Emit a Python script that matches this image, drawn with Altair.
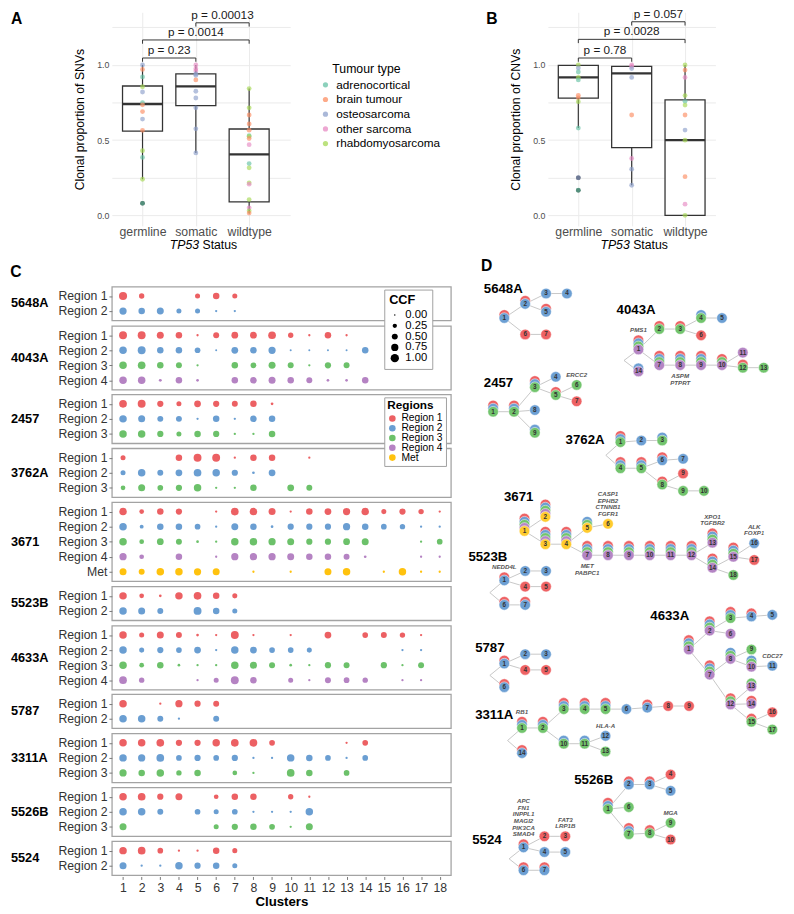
import altair as alt
import pandas as pd

FONT = "Liberation Sans"
N = None

# ---------------- Panels A and B : data ----------------
STATUS = ["germline", "somatic", "wildtype"]
TUMOUR_TYPES = ["adrenocortical", "brain tumour", "osteosarcoma", "other sarcoma", "rhabdomyosarcoma"]
TUMOUR_COLOURS = ["#66C2A5", "#FC8D62", "#8DA0CB", "#E78AC3", "#A6D854"]

SNV_STATUS = [1] * 14 + [2] * 11 + [3] * 17
SNV_VALUE = [1.0, 0.97, 0.92, 0.855, 0.82, 0.75, 0.735, 0.69, 0.64, 0.565, 0.43, 0.385, 0.24, 0.08,
             1.0, 0.975, 0.96, 0.94, 0.93, 0.90, 0.825, 0.78, 0.715, 0.575, 0.415,
             0.843, 0.715, 0.667, 0.608, 0.566, 0.53, 0.525, 0.511, 0.47, 0.344, 0.316, 0.216,
             0.207, 0.105, 0.05, 0.03, 0.015]
SNV_TYPE = [2, 1, 0, 4, 2, 0, 1, 1, 2, 1, 4, 0, 4, 0,
            3, 3, 3, 2, 2, 1, 2, 2, 2, 2, 2,
            4, 4, 1, 1, 1, 0, 4, 1, 3, 0, 4, 4, 3, 4, 3, 4, 1]
SNV_LOW = [0.24, 0.415, 0.013]
SNV_Q1 = [0.56, 0.73, 0.09]
SNV_MED = [0.74, 0.857, 0.405]
SNV_Q3 = [0.86, 0.94, 0.574]
SNV_HIGH = [1.0, 1.0, 0.843]
SNV_OUT_STATUS = [1]
SNV_OUT_VALUE = [0.08]
SNV_P_FROM = [1, 1, 2]
SNV_P_TO = [2, 3, 3]
SNV_P_LEVEL = [1.046, 1.166, 1.28]
SNV_P_TEXT = ["p = 0.23", "p = 0.0014", "p = 0.00013"]

CNV_STATUS = [1] * 11 + [2] * 8 + [3] * 12
CNV_VALUE = [1.0, 0.98, 0.953, 0.917, 0.9, 0.798, 0.781, 0.756, 0.58, 0.25, 0.167,
             1.0, 0.99, 0.976, 0.917, 0.667, 0.378, 0.307, 0.2,
             1.0, 0.966, 0.917, 0.796, 0.758, 0.733, 0.667, 0.567, 0.5, 0.257, 0.074, 0.0]
CNV_TYPE = [4, 2, 0, 4, 0, 1, 1, 4, 0, 2, 0,
            3, 3, 2, 2, 1, 3, 2, 2,
            4, 1, 3, 4, 0, 4, 1, 2, 4, 1, 3, 4]
CNV_LOW = [0.58, 0.2, 0.0]
CNV_Q1 = [0.779, 0.45, 0.0]
CNV_MED = [0.917, 0.944, 0.5]
CNV_Q3 = [0.997, 0.99, 0.768]
CNV_HIGH = [1.0, 1.0, 1.0]
CNV_OUT_STATUS = [1, 1]
CNV_OUT_VALUE = [0.25, 0.167]
CNV_P_FROM = [1, 1, 2]
CNV_P_TO = [2, 3, 3]
CNV_P_LEVEL = [1.046, 1.17, 1.287]
CNV_P_TEXT = ["p = 0.78", "p = 0.0028", "p = 0.057"]

# ---------------- Panel C : data (CCF per region and cluster) ----------------
REGIONS = ["Region 1", "Region 2", "Region 3", "Region 4", "Met"]
REGION_COLOURS = ["#EC6063", "#6A9ED2", "#6CC16A", "#B583C3", "#FFC20E"]
C_PATIENTS = ["5648A", "4043A", "2457", "3762A", "3671", "5523B", "4633A", "5787", "3311A", "5526B", "5524"]

CCF_5648A = [[0.95, 0.4, N, N, 0.35, 0.6, 0.35],
             [0.75, 0.6, 0.7, 0.35, 0.35, 0.05, 0.05]]
CCF_4043A = [[0.9, 0.9, 0.7, 0.6, 0.05, 0.5, 0.65, 0.65, 0.85, 0.4, 0.05, 0.6, 0.05],
             [0.8, 0.9, 0.6, 0.6, 0.45, 0.03, 0.65, 0.6, 0.75, 0.03, 0.03, 0.03, 0.03, 0.6],
             [0.8, 0.85, 0.6, 0.5, 0.05, N, 0.6, 0.45, 0.7, 0.5, 0.05, 0.55, 0.5],
             [0.8, 0.8, 0.1, 0.6, 0.08, N, 0.6, 0.6, 0.7, 0.6, 0.5, 0.08, 0.08, 0.6]]
CCF_2457 = [[0.85, 0.9, 0.55, 0.35, 0.65, 0.55, 0.5, 0.6, 0.08],
            [0.8, 0.7, 0.5, 0.5, 0.05, 0.6, 0.05, 0.6, 0.6],
            [0.8, 0.8, 0.55, 0.35, 0.6, 0.55, 0.05, 0.05, 0.6]]
CCF_3762A = [[0.35, N, N, 0.6, 0.9, 0.9, 0.05, 0.6, 0.6, N, 0.05],
             [0.35, 0.8, 0.5, 0.65, 0.85, 0.8, 0.55, 0.08, 0.65],
             [0.3, 0.7, 0.45, 0.55, 0.8, 0.05, 0.05, 0.6, N, 0.65, 0.5]]
CCF_3671 = [[0.8, 0.3, 0.6, 0.55, N, 0.05, 0.85, 0.8, 0.7, 0.05, 0.6, 0.65, 0.75, 0.8, 0.35, 0.55, 0.4, 0.05],
            [0.8, 0.2, 0.6, 0.6, 0.45, 0.05, 0.7, 0.6, 0.08, 0.55, 0.55, 0.55, 0.75, 0.6, 0.45, 0.4, 0.05, 0.05],
            [0.8, 0.3, 0.65, 0.5, 0.08, 0.05, 0.8, 0.8, 0.75, 0.7, 0.55, 0.55, 0.65, 0.7, N, N, 0.05, 0.45],
            [0.75, 0.3, N, 0.6, N, 0.05, 0.75, 0.75, 0.75, 0.7, 0.6, 0.6, 0.5, 0.08, N, N, 0.05, 0.05],
            [0.7, 0.5, 0.8, 0.8, 0.75, 0.7, N, 0.05, N, 0.05, N, 0.7, 0.8, N, 0.05, 0.8, 0.05, 0.05]]
CCF_5523B = [[0.8, 0.3, 0.08, 0.8, 0.85, 0.6, 0.35],
             [0.8, 0.7, 0.5, N, 0.9, 0.6, 0.35]]
CCF_4633A = [[0.8, 0.35, 0.7, 0.5, 0.08, 0.05, 0.9, 0.05, N, 0.05, N, 0.65, N, 0.45, 0.5, 0.4, 0.05],
             [0.8, 0.35, 0.55, 0.45, 0.65, 0.05, 0.8, 0.65, 0.45, 0.45, 0.35, N, N, N, N, 0.05, 0.05],
             [0.8, 0.3, 0.6, 0.08, 0.05, 0.05, 0.8, 0.7, 0.5, 0.08, 0.05, 0.55, 0.5, N, 0.55, 0.05, 0.5],
             [0.85, 0.4, N, N, 0.05, 0.35, 0.9, 0.6, N, 0.35, 0.05, 0.5, 0.45, 0.4, N, 0.05, 0.05]]
CCF_5787 = [[0.8, N, 0.05, 0.75, 0.55, 0.5],
            [0.8, 0.8, 0.5, 0.05, N, 0.5]]
CCF_3311A = [[0.8, 0.8, 0.85, 0.55, 0.55, 0.8, 0.85, 0.85, 0.45, N, N, N, 0.05, 0.45],
             [0.8, 0.75, 0.85, 0.45, 0.55, 0.45, 0.55, 0.05, 0.05, 0.8, 0.6, 0.45, 0.05, 0.45],
             [0.75, 0.6, 0.8, 0.4, 0.6, N, 0.3, 0.05, N, 0.85, 0.6, N, 0.45]]
CCF_5526B = [[0.8, 0.85, 0.55, 0.7, N, 0.3, 0.6, 0.6, N, 0.4, 0.05],
             [0.8, 0.8, 0.5, N, 0.45, 0.35, 0.45, 0.05, 0.05, 0.05, 0.8],
             [0.7, N, N, N, N, 0.35, 0.55, 0.6, 0.45, 0.05, 0.7]]
CCF_5524 = [[0.8, 0.85, 0.45, 0.05, 0.05, 0.6, 0.35],
            [0.7, 0.05, 0.05, 0.8, 0.55, 0.6, 0.35]]

C_TABLES = [CCF_5648A, CCF_4043A, CCF_2457, CCF_3762A, CCF_3671, CCF_5523B,
            CCF_4633A, CCF_5787, CCF_3311A, CCF_5526B, CCF_5524]
C_REGION_SETS = [REGIONS[:2], REGIONS[:4], REGIONS[:3], REGIONS[:3], REGIONS[:5], REGIONS[:2],
                 REGIONS[:4], REGIONS[:2], REGIONS[:3], REGIONS[:3], REGIONS[:2]]

# ---------------- Panel D : phylogenetic trees (layout in tree units) ----------------
D_COLOURS = {"R": "#EE6264", "B": "#6C9FD3", "G": "#72C46D", "P": "#B485C4", "Y": "#FFCB2E"}
D_STEP = 21.7
D_LAYER = 3.3

TREE_5648A = {"name": "5648A", "at": (482, 288), "x0": 503.3,
              "nodes": [("1", 0, 318.3, "RB"), ("2", 1, 303.3, "RB"), ("3", 2, 292.3, "B"), ("4", 3, 292.3, "B"),
                        ("5", 2, 311.7, "RB"), ("6", 1, 335.7, "R"), ("7", 2, 335.7, "R")],
              "edges": [("1", "2"), ("2", "3"), ("3", "4"), ("2", "5"), ("1", "6"), ("6", "7")],
              "genes": []}
TREE_4043A = {"name": "4043A", "at": (620, 310), "x0": 642.7,
              "nodes": [("1", 0, 351.7, "RBGP"), ("2", 1, 330, "RG"), ("3", 2, 330, "RG"), ("4", 3, 318.3, "BG"),
                        ("5", 4, 318.3, "B"), ("6", 3, 336.7, "R"), ("7", 1, 368.3, "RBGP"), ("8", 2, 368.3, "RBGP"),
                        ("9", 3, 368.3, "RBGP"), ("10", 4, 368.3, "RGP"), ("11", 5, 355, "P"), ("12", 5, 371, "RG"),
                        ("13", 6, 371, "G"), ("14", 0, 375, "BP")],
              "edges": [("1", "2"), ("2", "3"), ("3", "4"), ("4", "5"), ("3", "6"), ("1", "7"), ("7", "8"),
                        ("8", "9"), ("9", "10"), ("10", "11"), ("10", "12"), ("12", "13"), ("1", "14", "bend")],
              "genes": [("1", ["PMS1"], "above"), ("8", ["ASPM", "PTPRT"], "below")]}
TREE_2457 = {"name": "2457", "at": (482, 387), "x0": 491.7,
             "nodes": [("1", 0, 417.7, "RBG"), ("2", 1, 417.7, "RBG"), ("3", 2, 391.7, "RBG"), ("4", 3, 380.7, "B"),
                       ("5", 3, 400, "RG"), ("6", 4, 389.3, "G"), ("7", 4, 406.7, "R"), ("8", 2, 416, "B"),
                       ("9", 2, 440, "BG")],
             "edges": [("1", "2"), ("2", "3"), ("3", "4"), ("3", "5"), ("5", "6"), ("5", "7"), ("2", "8"), ("2", "9")],
             "genes": [("6", ["ERCC2"], "above")]}
TREE_3762A = {"name": "3762A", "at": (567, 448), "x0": 624,
              "nodes": [("r", -0.7, 464, ""), ("1", 0, 450, "RBG"), ("2", 1, 448.3, "B"), ("3", 2, 448.3, "BG"),
                        ("4", 0, 477.7, "RBG"), ("5", 1, 477.7, "RBG"), ("6", 2, 469.3, "RB"), ("7", 3, 467.7, "B"),
                        ("8", 2, 495, "RG"), ("9a", 3, 483.3, "R"), ("9b", 3, 501.7, "G"), ("10", 4, 501.7, "G")],
              "edges": [("r", "1"), ("r", "4"), ("1", "2"), ("2", "3"), ("4", "5"), ("5", "6"), ("6", "7"),
                        ("5", "8"), ("8", "9a"), ("8", "9b"), ("9b", "10")],
              "genes": []}
TREE_3671 = {"name": "3671", "at": (503, 508), "x0": 524.3,
             "nodes": [("1", 0, 544.3, "RBGPY"), ("2", 1, 529.3, "RBGPY"), ("3", 1, 558.3, "RBGPY"),
                       ("4", 2, 558.3, "RBGPY"), ("5", 3, 541, "BGY"), ("6", 4, 536.7, "Y"), ("7", 3, 570, "RBGP"),
                       ("8", 4, 570, "RBGP"), ("9", 5, 570, "RBGP"), ("10", 6, 570, "RBGP"), ("11", 7, 570, "RBGP"),
                       ("12", 8, 570, "RBGP"), ("13", 9, 556.7, "RBGP"), ("14", 9, 583.3, "RBGP"),
                       ("15", 10, 571.7, "RBGP"), ("16", 11, 557.3, "B"), ("17", 11, 575, "R"), ("18", 10, 591, "G")],
             "edges": [("1", "2"), ("1", "3"), ("3", "4"), ("4", "5"), ("5", "6"), ("4", "7"), ("7", "8"),
                       ("8", "9"), ("9", "10"), ("10", "11"), ("11", "12"), ("12", "13"), ("12", "14"),
                       ("14", "15"), ("15", "16"), ("15", "17"), ("14", "18")],
             "genes": [("6", ["CASP1", "EPHB2", "CTNNB1", "FGFR1"], "above"), ("7", ["MET", "PABPC1"], "below"),
                       ("13", ["XPO1", "TGFBR2"], "above"), ("16", ["ALK", "FOXP1"], "above")]}
TREE_5523B = {"name": "5523B", "at": (466, 572), "x0": 503.3,
              "nodes": [("1", 0, 596.7, "RB"), ("2", 1, 586.7, "B"), ("3", 2, 586.7, "B"), ("4", 1, 603.3, "R"),
                        ("5", 2, 603.3, "R"), ("6", 0, 622.7, "RB"), ("7", 1, 622.7, "RB")],
              "edges": [("1", "2"), ("2", "3"), ("1", "4"), ("4", "5"), ("1", "6", "bend"), ("6", "7")],
              "genes": [("1", ["NEDD4L"], "above")]}
TREE_4633A = {"name": "4633A", "at": (655, 635), "x0": 695,
              "nodes": [("1", 0, 670, "RBGP"), ("2", 1, 650, "RBGP"), ("3", 2, 636.7, "RBG"), ("4", 3, 635, "RB"),
                        ("5", 4, 633.3, "B"), ("6", 2, 653.3, "P"), ("7", 1, 696.7, "RBGP"), ("8", 2, 680, "BGP"),
                        ("9", 3, 670, "G"), ("10", 3, 688.3, "BGP"), ("11", 4, 687.3, "B"), ("12", 2, 728.3, "RGP"),
                        ("13", 3, 709.3, "GP"), ("14", 3, 727.7, "RP"), ("15", 3, 746.7, "RG"), ("16", 4, 736.7, "R"),
                        ("17", 4, 755, "G")],
              "edges": [("1", "2"), ("2", "3"), ("3", "4"), ("4", "5"), ("2", "6"), ("1", "7"), ("7", "8"),
                        ("8", "9"), ("8", "10"), ("10", "11"), ("7", "12"), ("12", "13"), ("12", "14"),
                        ("12", "15"), ("15", "16"), ("15", "17")],
              "genes": [("11", ["CDC27"], "above")]}
TREE_5787 = {"name": "5787", "at": (473, 669), "x0": 503.3,
             "nodes": [("1", 0, 685, "RB"), ("2", 1, 675, "B"), ("3", 2, 675, "B"), ("4", 1, 691.7, "R"),
                       ("5", 2, 691.7, "R"), ("6", 0, 710, "RB")],
             "edges": [("1", "2"), ("2", "3"), ("1", "4"), ("4", "5"), ("1", "6", "bend")],
             "genes": []}
TREE_3311A = {"name": "3311A", "at": (473, 740), "x0": 521.7,
              "nodes": [("1", 0, 753.3, "RBG"), ("2", 1, 753.3, "RBG"), ("3", 2, 733.3, "RBG"), ("4", 3, 733.3, "RBG"),
                        ("5", 4, 733.3, "RBG"), ("6", 5, 733.3, "B"), ("7", 6, 731.7, "RB"), ("8", 7, 730, "R"),
                        ("9", 8, 730, "R"), ("10", 2, 770, "BG"), ("11", 3, 770, "BG"), ("12", 4, 761.7, "B"),
                        ("13", 4, 778.3, "G"), ("14", 0, 780, "RB")],
              "edges": [("1", "2"), ("2", "3"), ("3", "4"), ("4", "5"), ("5", "6"), ("6", "7"), ("7", "8"),
                        ("8", "9"), ("2", "10"), ("10", "11"), ("11", "12"), ("11", "13"), ("1", "14", "bend")],
              "genes": [("1", ["RB1"], "above"), ("12", ["HLA-A"], "above")]}
TREE_5526B = {"name": "5526B", "at": (576, 809), "x0": 611,
              "nodes": [("1", 0, 839.3, "RBG"), ("2", 1, 813.3, "RB"), ("3", 2, 813.3, "RB"), ("4", 3, 802.7, "R"),
                        ("5", 3, 820, "B"), ("6", 1, 837.3, "G"), ("7", 1, 866, "RBG"), ("8", 2, 865, "RG"),
                        ("9", 3, 854, "G"), ("10", 3, 871.7, "R")],
              "edges": [("1", "2"), ("2", "3"), ("3", "4"), ("3", "5"), ("1", "6"), ("1", "7"), ("7", "8"),
                        ("8", "9"), ("8", "10")],
              "genes": [("9", ["MGA"], "above")]}
TREE_5524 = {"name": "5524", "at": (470, 872), "x0": 523.3,
             "nodes": [("1", 0, 880, "RB"), ("2", 1, 868.3, "R"), ("3", 2, 868.3, "R"), ("4", 1, 885, "B"),
                       ("5", 2, 885, "B"), ("6", 0, 904.3, "RB"), ("7", 1, 904.3, "RB")],
             "edges": [("1", "2"), ("2", "3"), ("1", "4"), ("4", "5"), ("1", "6", "bend"), ("6", "7")],
             "genes": [("1", ["APC", "FN1", "INPPL1", "MAGI2", "PIK3CA", "SMAD4"], "above"),
                       ("3", ["FAT3", "LRP1B"], "above")]}
TREES = [TREE_5648A, TREE_4043A, TREE_2457, TREE_3762A, TREE_3671, TREE_5523B,
         TREE_4633A, TREE_5787, TREE_3311A, TREE_5526B, TREE_5524]


# ====================================================================
def box_panel(status, value, ttype, low, q1, med, q3, high, out_s, out_v,
              p_from, p_to, p_level, p_text, ytitle, letter, letter_x, xdom, width, show_legend):
    H = 218
    xs = alt.Scale(domain=xdom, nice=False, zero=False)
    ys = alt.Scale(domain=[-0.07, 1.35], nice=False, zero=False)
    cs = alt.Scale(domain=TUMOUR_TYPES, range=TUMOUR_COLOURS)
    xaxis = alt.Axis(values=[1, 2, 3], labelExpr="['germline','somatic','wildtype'][datum.value-1]",
                     grid=True, gridColor="#EBEBEB", ticks=False, domain=False,
                     labelFontSize=12.5, labelColor="#4D4D4D", labelPadding=0, title=None)
    yaxis = alt.Axis(values=[0, 0.25, 0.5, 0.75, 1.0, 1.25],
                     labelExpr="datum.value == 0 || datum.value == 0.5 || datum.value == 1 ? format(datum.value, '.1f') : ''",
                     grid=True, gridColor="#EBEBEB", ticks=False, domain=False,
                     labelFontSize=9, labelColor="#4D4D4D", labelPadding=3,
                     title=ytitle, titleFontSize=12.5, titleFontWeight="normal", titleColor="black",
                     titlePadding=10)
    pts = pd.DataFrame({"s": status, "v": value, "type": [TUMOUR_TYPES[t] for t in ttype]})
    box = pd.DataFrame({"s": [1, 2, 3], "low": low, "q1": q1, "med": med, "q3": q3, "high": high})
    box["l"] = box["s"] - 0.375
    box["r"] = box["s"] + 0.375
    outl = pd.DataFrame({"s": out_s, "v": out_v})
    br = pd.DataFrame({"a": p_from, "b": p_to, "lv": p_level, "txt": p_text})
    br["tip"] = br["lv"] - 0.025
    br["mid"] = (br["a"] + br["b"]) / 2

    def X(f):
        return alt.X(f, scale=xs, axis=xaxis)

    def Y(f):
        return alt.Y(f, scale=ys, axis=yaxis)

    whisk = alt.Chart(box).mark_rule(color="#333333", strokeWidth=1.2).encode(
        x=X("s:Q"), y=Y("low:Q"), y2="high:Q")
    rect = alt.Chart(box).mark_rect(fill="white", stroke="#333333", strokeWidth=1.3).encode(
        x=X("l:Q"), x2="r:Q", y=Y("q1:Q"), y2="q3:Q")
    medl = alt.Chart(box).mark_rule(color="#333333", strokeWidth=2.4).encode(
        x=X("l:Q"), x2="r:Q", y=Y("med:Q"))
    outs = alt.Chart(outl).mark_circle(color="#333333", size=22, opacity=1).encode(x=X("s:Q"), y=Y("v:Q"))
    points = alt.Chart(pts).mark_circle(size=24, opacity=0.65).encode(
        x=X("s:Q"), y=Y("v:Q"), color=alt.Color("type:N", scale=cs, legend=None))
    hbar = alt.Chart(br).mark_rule(color="#333333", strokeWidth=1).encode(x=X("a:Q"), x2="b:Q", y=Y("lv:Q"))
    t1 = alt.Chart(br).mark_rule(color="#333333", strokeWidth=1).encode(x=X("a:Q"), y=Y("lv:Q"), y2="tip:Q")
    t2 = alt.Chart(br).mark_rule(color="#333333", strokeWidth=1).encode(x=X("b:Q"), y=Y("lv:Q"), y2="tip:Q")
    ptxt = alt.Chart(br).mark_text(baseline="bottom", dy=-1, fontSize=12, color="#1A1A1A").encode(
        x=X("mid:Q"), y=Y("lv:Q"), text="txt:N")
    let = alt.Chart(pd.DataFrame({"t": [letter]})).mark_text(
        align="left", baseline="top", fontSize=16, fontWeight="bold", color="black").encode(
        x=alt.value(letter_x), y=alt.value(-1), text="t:N")
    tp = alt.Chart(pd.DataFrame({"t": ["TP53"]})).mark_text(
        align="right", baseline="middle", fontSize=12.5, fontStyle="italic", color="black").encode(
        x=alt.value(width / 2 - 2), y=alt.value(H + 19.5), text="t:N")
    st = alt.Chart(pd.DataFrame({"t": ["Status"]})).mark_text(
        align="left", baseline="middle", fontSize=12.5, color="black").encode(
        x=alt.value(width / 2 + 1.5), y=alt.value(H + 19.5), text="t:N")
    layers = [whisk, rect, medl, outs, points, hbar, t1, t2, ptxt, let, tp, st]
    if show_legend:
        leg = pd.DataFrame({"type": TUMOUR_TYPES})
        leg["py"] = [74 + 15 * i for i in range(len(TUMOUR_TYPES))]
        leg_title = alt.Chart(pd.DataFrame({"t": ["Tumour type"]})).mark_text(
            align="left", baseline="middle", fontSize=12.5, color="black").encode(
            x=alt.value(width + 43), y=alt.value(58), text="t:N")
        leg_sym = alt.Chart(leg).mark_circle(size=28, opacity=0.75).encode(
            x=alt.value(width + 36), y=alt.Y("py:Q", scale=None, axis=None),
            color=alt.Color("type:N", scale=cs, legend=None))
        leg_lab = alt.Chart(leg).mark_text(align="left", baseline="middle", fontSize=12, color="black").encode(
            x=alt.value(width + 47), y=alt.Y("py:Q", scale=None, axis=None), text="type:N")
        layers += [leg_title, leg_sym, leg_lab]
    return alt.layer(*layers).properties(width=width, height=H, view=alt.ViewBackground(stroke=None))


panel_a = box_panel(SNV_STATUS, SNV_VALUE, SNV_TYPE, SNV_LOW, SNV_Q1, SNV_MED, SNV_Q3, SNV_HIGH,
                    SNV_OUT_STATUS, SNV_OUT_VALUE, SNV_P_FROM, SNV_P_TO, SNV_P_LEVEL, SNV_P_TEXT,
                    "Clonal proportion of SNVs", "A", -103, [0.425, 3.77], 182, True)
panel_b = box_panel(CNV_STATUS, CNV_VALUE, CNV_TYPE, CNV_LOW, CNV_Q1, CNV_MED, CNV_Q3, CNV_HIGH,
                    CNV_OUT_STATUS, CNV_OUT_VALUE, CNV_P_FROM, CNV_P_TO, CNV_P_LEVEL, CNV_P_TEXT,
                    "Clonal proportion of CNVs", "B", -63, [0.43, 3.57], 171, False)

# ---------------- Panel C ----------------
c_rows = []
for pid, regs, table in zip(C_PATIENTS, C_REGION_SETS, C_TABLES):
    for reg, vals in zip(regs, table):
        for i, v in enumerate(vals):
            if v is not None:
                c_rows.append({"patient": pid, "region": reg, "cluster": i + 1, "ccf": v, "kind": "dot"})
    n = len(regs)
    mid = regs[n // 2] if n % 2 else regs[n // 2 - 1]
    c_rows.append({"patient": pid, "region": mid, "cluster": None, "ccf": None,
                   "kind": "odd" if n % 2 else "even"})
c_df = pd.DataFrame(c_rows)

C_W = 346
C_STEP = 15.35
c_yscale = alt.Scale(type="point", padding=0.625)
c_yaxis = alt.Axis(title=None, domain=False, grid=False, tickSize=3, tickColor="#777777",
                   labelFontSize=12.5, labelColor="#333333", labelPadding=2)
c_dots = alt.Chart().mark_circle(opacity=1).encode(
    x=alt.X("cluster:Q", scale=alt.Scale(domain=[0.4, 18.6], nice=False, zero=False),
            axis=alt.Axis(values=list(range(1, 19)), format="d", grid=False, domain=False,
                          ticks=True, tickSize=3, tickColor="#777777", labelFontSize=12.5,
                          labelColor="#333333", labelPadding=2, title="Clusters", titleFontSize=13.5,
                          titleFontWeight="bold", titleColor="black", titlePadding=1)),
    y=alt.Y("region:N", sort=REGIONS, scale=c_yscale, axis=c_yaxis),
    size=alt.Size("ccf:Q", scale=alt.Scale(domain=[0, 1], range=[2, 72]),
                  legend=alt.Legend(title="CCF", orient="none", legendX=C_W - 68, legendY=3,
                                    values=[0, 0.25, 0.5, 0.75, 1.0], format=".2f",
                                    titleFontSize=13, titleFontWeight="bold", titleColor="black",
                                    labelFontSize=11.5, labelColor="black", symbolFillColor="black",
                                    symbolStrokeWidth=0, symbolType="circle", clipHeight=10,
                                    rowPadding=-1.2, padding=5, fillColor="white", strokeColor="#A0A0A0",
                                    labelOffset=5, titlePadding=3)),
    color=alt.Color("region:N", scale=alt.Scale(domain=REGIONS, range=REGION_COLOURS),
                    legend=alt.Legend(title="Regions", orient="none", legendX=C_W - 68, legendY=113,
                                      titleFontSize=12, titleFontWeight="bold", titleColor="black",
                                      labelFontSize=10.5, labelColor="black", symbolType="circle",
                                      symbolSize=45, symbolStrokeWidth=0, clipHeight=9, rowPadding=-1.2,
                                      padding=3, fillColor="white", strokeColor="#A0A0A0",
                                      labelOffset=4, titlePadding=2)),
).transform_filter("datum.kind === 'dot'")


def c_names(kind, dy):
    return alt.Chart().mark_text(align="left", baseline="middle", fontSize=13, fontWeight="bold",
                                 color="black", dy=dy).encode(
        x=alt.value(-103), y=alt.Y("region:N", sort=REGIONS, scale=c_yscale, axis=c_yaxis),
        text="patient:N").transform_filter(f"datum.kind === '{kind}'")


c_cell = alt.layer(c_dots, c_names("odd", 0), c_names("even", C_STEP / 2), data=c_df).properties(
    width=C_W, height=alt.Step(C_STEP), view=alt.ViewBackground(stroke="#A3A3A3", strokeWidth=1.3))

c_chart = c_cell.facet(
    row=alt.Row("patient:N", sort=C_PATIENTS, header=alt.Header(title=None, labels=False)),
    spacing=3,
).resolve_scale(y="independent").properties(
    title=alt.TitleParams("C", anchor="start", fontSize=16, fontWeight="bold", color="black", offset=6))

# ---------------- Panel D ----------------
circ, labs, genes, edges, names = [], [], [], [], []
z = 0
eid = 0
for t in TREES:
    pos = {}
    for nid, depth, y, stack in t["nodes"]:
        pos[nid] = (t["x0"] + depth * D_STEP, y, len(stack))
    for e in t["edges"]:
        xa, ya, _ = pos[e[0]]
        xb, yb, _ = pos[e[1]]
        pts = [(xa, ya)]
        if len(e) > 2:
            pts.append((xa - 15, (ya + yb) / 2))
        pts.append((xb, yb))
        for k, (px, py) in enumerate(pts):
            edges.append({"eid": eid, "seq": k, "x": px, "y": py})
        eid += 1
    for nid, depth, y, stack in t["nodes"]:
        x = pos[nid][0]
        n = len(stack)
        for k, c in enumerate(stack):
            circ.append({"x": x, "y": y - (n - 1 - k) * D_LAYER, "hex": D_COLOURS[c], "z": z})
            z += 1
        if n:
            labs.append({"x": x, "y": y, "t": nid.rstrip("ab")})
    for nid, words, where in t["genes"]:
        x, y, n = pos[nid]
        if where == "above":
            base = y - (n - 1) * D_LAYER - 10.7
            for k, w in enumerate(reversed(words)):
                genes.append({"x": x, "y": base - 7 * k, "t": w})
        else:
            for k, w in enumerate(words):
                genes.append({"x": x, "y": y + 12 + 7 * k, "t": w})
    names.append({"x": t["at"][0], "y": t["at"][1], "t": t["name"]})

dxs = alt.Scale(domain=[458, 794], nice=False, zero=False)
dys = alt.Scale(domain=[285, 913], nice=False, zero=False, reverse=True)


def DX(f):
    return alt.X(f, scale=dxs, axis=None)


def DY(f):
    return alt.Y(f, scale=dys, axis=None)


d_edges = alt.Chart(pd.DataFrame(edges)).mark_line(color="#B8B8B8", strokeWidth=0.8).encode(
    x=DX("x:Q"), y=DY("y:Q"), detail="eid:N", order="seq:Q")
d_circ = alt.Chart(pd.DataFrame(circ)).mark_circle(size=116, opacity=1, stroke="white", strokeWidth=0.5).encode(
    x=DX("x:Q"), y=DY("y:Q"), color=alt.Color("hex:N", scale=None), order="z:Q")
d_labs = alt.Chart(pd.DataFrame(labs)).mark_text(fontSize=6.5, fontWeight="bold", color="#333333").encode(
    x=DX("x:Q"), y=DY("y:Q"), text="t:N")
d_genes = alt.Chart(pd.DataFrame(genes)).mark_text(fontSize=6.3, fontStyle="italic", fontWeight="bold",
                                                   color="#555555").encode(x=DX("x:Q"), y=DY("y:Q"), text="t:N")
d_names = alt.Chart(pd.DataFrame(names)).mark_text(fontSize=13.5, fontWeight="bold", align="left",
                                                   color="black").encode(x=DX("x:Q"), y=DY("y:Q"), text="t:N")
d_letter = alt.Chart(pd.DataFrame({"x": [479], "y": [263], "t": ["D"]})).mark_text(
    fontSize=16, fontWeight="bold", align="left", color="black").encode(x=DX("x:Q"), y=DY("y:Q"), text="t:N")
d_chart = alt.layer(d_edges, d_circ, d_labs, d_genes, d_names, d_letter).properties(
    width=330, height=604, view=alt.ViewBackground(stroke=None))

# ---------------- Assemble ----------------
top = alt.hconcat(panel_a, panel_b, spacing=46).resolve_scale(color="independent")
bottom = alt.hconcat(c_chart, d_chart, spacing=9).resolve_scale(color="independent", size="independent")
chart = alt.vconcat(top, bottom, spacing=6).resolve_scale(
    color="independent", size="independent").properties(
    padding={"top": -10, "bottom": 2, "left": 2, "right": 2}, background="white").configure(
    font=FONT).configure_view(stroke=None)

chart.save("out.html", embed_options={"renderer": "svg", "actions": False})
